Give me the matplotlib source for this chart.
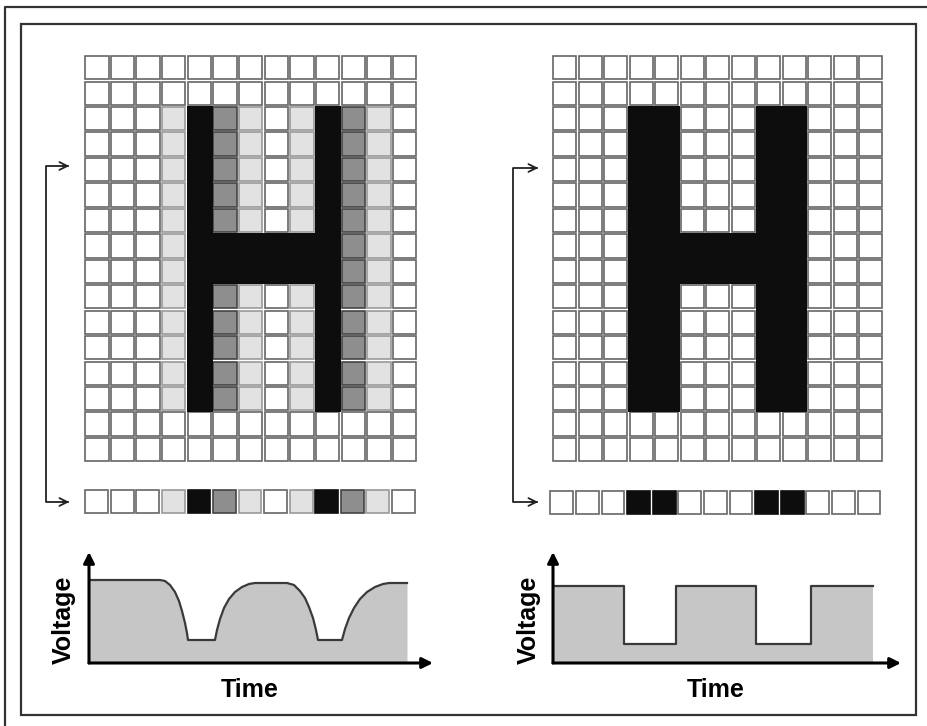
import matplotlib
matplotlib.use("Agg")
import matplotlib.pyplot as plt
from matplotlib.patches import Rectangle

plt.rcParams['font.family'] = ['Liberation Sans', 'DejaVu Sans']

# pixel grids: '.' white, 'l' light grey, 'd' dark grey, 'k' black
left_grid = [
    ".............",
    ".............",
    "...lkdl.lkdl.",
    "...lkdl.lkdl.",
    "...lkdl.lkdl.",
    "...lkdl.lkdl.",
    "...lkdl.lkdl.",
    "...lkkkkkkdl.",
    "...lkkkkkkdl.",
    "...lkdl.lkdl.",
    "...lkdl.lkdl.",
    "...lkdl.lkdl.",
    "...lkdl.lkdl.",
    "...lkdl.lkdl.",
    ".............",
    ".............",
]
right_grid = [
    ".............",
    ".............",
    "...kk...kk...",
    "...kk...kk...",
    "...kk...kk...",
    "...kk...kk...",
    "...kk...kk...",
    "...kkkkkkk...",
    "...kkkkkkk...",
    "...kk...kk...",
    "...kk...kk...",
    "...kk...kk...",
    "...kk...kk...",
    "...kk...kk...",
    ".............",
    ".............",
]
scan_row = 4
left_strip = left_grid[scan_row]
right_strip = right_grid[scan_row]

# voltage waveforms (time, voltage)
left_t = [0, 71, 76, 81, 86, 90, 93, 96, 98, 99,
          126, 128, 131, 135, 140, 146, 153, 160, 166, 198,
          205, 211, 216, 220, 224, 227, 229,
          253, 256, 260, 265, 271, 278, 286, 294, 300, 318]
left_v = [83, 83, 82, 78, 71, 62, 52, 40, 30, 23,
          23, 33, 44, 55, 64, 71, 76, 79, 80, 80,
          78, 72, 65, 56, 45, 33, 23,
          23, 34, 45, 55, 64, 71, 76, 79, 80, 80]
right_edges = [0, 71, 123, 203, 258, 320]
right_levels = [77, 19, 77, 19, 77]

FILL = {'.': 'white', 'l': '#e2e2e2', 'd': '#8e8e8e', 'k': '#0d0d0d'}
EDGE = {'.': '#666666', 'l': '#999999', 'd': '#444444', 'k': '#0d0d0d'}

W, H = 927, 726
fig = plt.figure(figsize=(W / 100, H / 100), dpi=100)
ax = fig.add_axes([0, 0, 1, 1])
ax.set_xlim(0, W)
ax.set_ylim(H, 0)
ax.axis('off')


def draw_cells(rows, x0, y0, px, py, gap=2.2, merge_black=True):
    for r, row in enumerate(rows):
        for c, ch in enumerate(row):
            if ch == 'k' and merge_black:
                continue
            ax.add_patch(Rectangle((x0 + c * px + gap / 2, y0 + r * py + gap / 2),
                                   px - gap, py - gap, facecolor=FILL[ch],
                                   edgecolor=EDGE[ch], lw=1.2))
    if not merge_black:
        return
    # black cells of the letter merge into one solid block
    for r, row in enumerate(rows):
        for c, ch in enumerate(row):
            if ch == 'k':
                ax.add_patch(Rectangle((x0 + c * px, y0 + r * py), px + 0.3, py + 0.3,
                                       facecolor=FILL[ch], edgecolor='none'))


# big grids
draw_cells(left_grid, 84, 55, 25.65, 25.45)
draw_cells(right_grid, 552, 55, 25.5, 25.45)
# scan strips
draw_cells([left_strip], 84, 489, 25.55, 25.0, gap=2.8, merge_black=False)
draw_cells([right_strip], 549, 490, 25.6, 25.0, gap=2.8, merge_black=False)

# connector arrows from scanned row to strip
for xv, ytop, ybot, xtip in [(46, 166, 502, 72), (513, 168, 502, 541)]:
    ax.plot([xtip - 4, xv, xv, xtip - 4], [ytop, ytop, ybot, ybot], color='#222', lw=1.3)
    for yy in (ytop, ybot):
        ax.annotate('', xy=(xtip, yy), xytext=(xtip - 12, yy),
                    arrowprops=dict(arrowstyle='->', color='#222', lw=1.3,
                                    mutation_scale=14))

# frames
ax.plot([5, 5, W], [H, 7, 7], color='#333', lw=1.6)
ax.add_patch(Rectangle((21, 24), 895, 691, fill=False, edgecolor='#333', lw=1.6))


def wave_axes(ox, oy, tip_x, tip_y):
    a = fig.add_axes([ox / W, (H - oy) / H, (tip_x - ox) / W, (oy - tip_y) / H])
    a.set_xlim(0, tip_x - ox)
    a.set_ylim(0, oy - tip_y)
    a.axis('off')
    a.annotate('', xy=(tip_x - ox, 0), xytext=(0, 0),
               arrowprops=dict(arrowstyle='-|>', color='black', lw=2.2,
                               mutation_scale=16, shrinkA=0, shrinkB=0))
    a.annotate('', xy=(0, oy - tip_y), xytext=(0, 0),
               arrowprops=dict(arrowstyle='-|>', color='black', lw=2.2,
                               mutation_scale=16, shrinkA=0, shrinkB=0))
    return a


wl = wave_axes(89, 663, 433, 552)
wl.fill_between(left_t, 0, left_v, color='#c6c6c6', lw=0)
wl.plot(left_t, left_v, color='#3a3a3a', lw=1.6)

wr = wave_axes(553, 663, 901, 552)
rt = []
rv = []
for i, lev in enumerate(right_levels):
    rt += [right_edges[i], right_edges[i + 1]]
    rv += [lev, lev]
wr.fill_between(rt, 0, rv, color='#c6c6c6', lw=0)
wr.plot(rt, rv, color='#3a3a3a', lw=1.6)

# axis labels
for xv, xt in [(64, 250), (529, 716)]:
    ax.text(xv, 620, 'Voltage', rotation=90, ha='center', va='center',
            fontsize=18, fontweight='bold')
    ax.text(xt, 690, 'Time', ha='center', va='center', fontsize=18, fontweight='bold')

fig.savefig('out.png', dpi=100, facecolor='white')
